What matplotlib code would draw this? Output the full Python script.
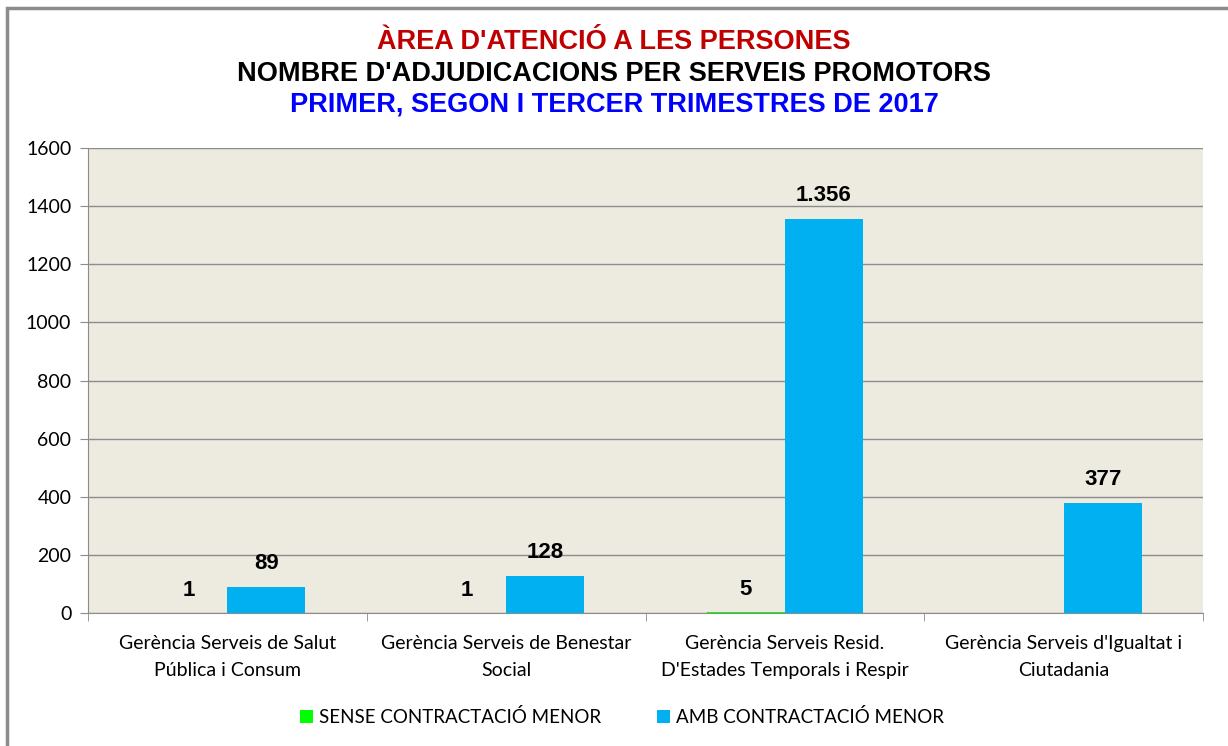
import matplotlib
matplotlib.use("Agg")
import matplotlib.pyplot as plt
import numpy as np
from matplotlib.patches import Rectangle

categories = ["Gerència Serveis de Salut\nPública i Consum",
              "Gerència Serveis de Benestar\nSocial",
              "Gerència Serveis Resid.\nD'Estades Temporals i Respir",
              "Gerència Serveis d'Igualtat i\nCiutadania"]
sense = [1, 1, 5, 0]
amb = [89, 128, 1356, 377]
sense_labels = ["1", "1", "5", ""]
amb_labels = ["89", "128", "1.356", "377"]

fig = plt.figure(figsize=(12.28, 7.46), dpi=100)
ax = fig.add_axes([88/1228, 133/746, 1115/1228, 465/746])

x = np.arange(len(categories))
w = 0.28
ax.bar(x - w/2, sense, w, color="#00FF00", label="SENSE CONTRACTACIÓ MENOR", zorder=3)
ax.bar(x + w/2, amb, w, color="#00B0F0", label="AMB CONTRACTACIÓ MENOR", zorder=3)

for i in range(len(categories)):
    if sense_labels[i]:
        ax.text(x[i] - w/2, sense[i] + 40, sense_labels[i], ha="center", va="bottom",
                fontsize=16, fontweight="bold", family="Liberation Sans")
    ax.text(x[i] + w/2, amb[i] + 45, amb_labels[i], ha="center", va="bottom",
            fontsize=16, fontweight="bold", family="Liberation Sans")

ax.set_facecolor("#EDEAE0")
ax.set_xlim(-0.5, 3.5)
ax.set_ylim(0, 1600)
ax.set_yticks(range(0, 1601, 200))
ax.yaxis.grid(True, color="#8c8c8c", lw=1)
ax.set_axisbelow(True)
for s in ["top", "right"]:
    ax.spines[s].set_visible(False)
for s in ["left", "bottom"]:
    ax.spines[s].set_color("#8c8c8c")
ax.tick_params(axis="y", colors="#8c8c8c", labelcolor="black", labelsize=14, length=6, pad=6)
for t in ax.get_yticklabels():
    t.set_family("Lato")

ax.set_xticks(x)
ax.set_xticklabels(categories, fontsize=14, family="Lato", linespacing=1.7)
ax.tick_params(axis="x", length=0, pad=16)
ax.set_xticks(np.arange(-0.5, 4, 1), minor=True)
ax.tick_params(axis="x", which="minor", length=6, color="#8c8c8c")

fig.text(0.5, 1 - 42/746, "ÀREA D'ATENCIÓ A LES PERSONES", ha="center", va="center",
         fontsize=19.5, fontweight="bold", color="#C00000", family="Liberation Sans")
fig.text(0.5, 1 - 74/746, "NOMBRE D'ADJUDICACIONS PER SERVEIS PROMOTORS", ha="center", va="center",
         fontsize=19.5, fontweight="bold", color="black", family="Liberation Sans")
fig.text(0.5, 1 - 105/746, "PRIMER, SEGON I TERCER TRIMESTRES DE 2017", ha="center", va="center",
         fontsize=19.5, fontweight="bold", color="#0000FF", family="Liberation Sans")

leg = fig.legend(loc="center", bbox_to_anchor=(622/1228, 1 - 717/746), ncol=2, frameon=False,
                 prop={"family": "Lato", "size": 13.5}, handlelength=0.7, handleheight=0.7,
                 handletextpad=0.3, columnspacing=3)

fig.patches.append(Rectangle((7/1228, -0.1), 1.2, 1.1 - 8/746, transform=fig.transFigure,
                             fill=False, edgecolor="#8c8c8c", lw=2.5))

fig.savefig("out.png", dpi=100)
